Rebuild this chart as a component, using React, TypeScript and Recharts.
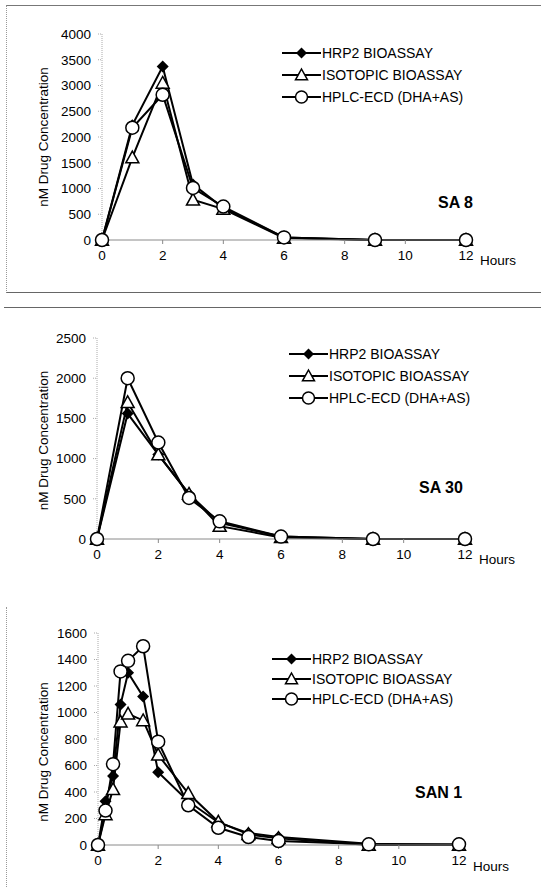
import React from "react"
import { LineChart, Line, XAxis, YAxis, Legend, Label } from "recharts"

// time points (hours)
const SA8_HOURS = [0, 1, 2, 3, 4, 6, 9, 12]
const SA8_HRP2 = [0, 2230, 3370, 1080, 620, 50, 0, 0]
const SA8_ISO = [0, 1600, 3050, 780, 600, 40, 0, 0]
const SA8_HPLC = [0, 2180, 2820, 1010, 650, 50, 0, 0]

const SA30_HOURS = [0, 1, 2, 3, 4, 6, 9, 12]
const SA30_HRP2 = [0, 1560, 1050, 560, 200, 30, 0, 0]
const SA30_ISO = [0, 1700, 1050, 560, 160, 20, 0, 0]
const SA30_HPLC = [0, 2000, 1200, 510, 220, 30, 0, 0]

const SAN1_HOURS = [0, 0.25, 0.5, 0.75, 1, 1.5, 2, 3, 4, 5, 6, 9, 12]
const SAN1_HRP2 = [0, 330, 520, 1060, 1300, 1120, 550, 330, 170, 90, 60, 10, 0]
const SAN1_ISO = [0, 230, 420, 930, 990, 940, 680, 390, 175, 80, 50, 0, 0]
const SAN1_HPLC = [0, 260, 610, 1310, 1390, 1500, 780, 300, 130, 60, 30, 5, 5]

const X_TICKS = [0, 2, 4, 6, 8, 10, 12]
const SA8_Y_TICKS = [0, 500, 1000, 1500, 2000, 2500, 3000, 3500, 4000]
const SA30_Y_TICKS = [0, 500, 1000, 1500, 2000, 2500]
const SAN1_Y_TICKS = [0, 200, 400, 600, 800, 1000, 1200, 1400, 1600]

const SERIES_NAMES = ["HRP2 BIOASSAY", "ISOTOPIC BIOASSAY", "HPLC-ECD (DHA+AS)"]

const FONT = '"Liberation Sans", Arial, sans-serif'
const AXIS_GRAY = "#8a8a8a"

function buildRows(hours: number[], a: number[], b: number[], c: number[]) {
  return hours.map((h, i) => ({ h, hrp2: a[i], iso: b[i], hplc: c[i] }))
}

function Diamond({ cx, cy, s = 6 }: { cx: number; cy: number; s?: number }) {
  return <path d={`M${cx},${cy - s} L${cx + s},${cy} L${cx},${cy + s} L${cx - s},${cy} Z`} fill="#000" />
}

function Triangle({ cx, cy, s = 6.5 }: { cx: number; cy: number; s?: number }) {
  return (
    <path
      d={`M${cx},${cy - s} L${cx + s},${cy + s * 0.8} L${cx - s},${cy + s * 0.8} Z`}
      fill="#fff"
      stroke="#000"
      strokeWidth={1.5}
    />
  )
}

function Ring({ cx, cy, r = 6.5 }: { cx: number; cy: number; r?: number }) {
  return <circle cx={cx} cy={cy} r={r} fill="#fff" stroke="#000" strokeWidth={1.5} />
}

const diamondDot = (p: any) => <Diamond key={`d-${p.index}`} cx={p.cx} cy={p.cy} />
const triangleDot = (p: any) => <Triangle key={`t-${p.index}`} cx={p.cx} cy={p.cy} />
const ringDot = (p: any) => <Ring key={`c-${p.index}`} cx={p.cx} cy={p.cy} />

function LegendBox({ rowHeight }: { rowHeight: number }) {
  const icons = [
    (x: number, y: number) => <Diamond cx={x} cy={y} s={5.5} />,
    (x: number, y: number) => <Triangle cx={x} cy={y} s={6} />,
    (x: number, y: number) => <Ring cx={x} cy={y} r={6} />,
  ]
  return (
    <div style={{ fontFamily: FONT, fontSize: 14, color: "#000" }}>
      {SERIES_NAMES.map((name, i) => (
        <div key={name} style={{ display: "flex", alignItems: "center", height: rowHeight, whiteSpace: "nowrap" }}>
          <svg width={39} height={rowHeight} style={{ display: "block" }}>
            <line x1={0} x2={39} y1={rowHeight / 2} y2={rowHeight / 2} stroke="#000" strokeWidth={2} />
            {icons[i](19.5, rowHeight / 2)}
          </svg>
          <span style={{ marginLeft: 1 }}>{name}</span>
        </div>
      ))}
    </div>
  )
}

function YTitle({ viewBox, shift }: any) {
  const cx = 43
  const cy = viewBox.y + viewBox.height / 2 + shift
  return (
    <text
      x={cx}
      y={cy}
      transform={`rotate(-90 ${cx} ${cy})`}
      textAnchor="middle"
      dominantBaseline="central"
      fontSize={13.5}
      fontFamily={FONT}
      fill="#000"
    >
      nM Drug Concentration
    </text>
  )
}

interface PanelProps {
  rows: { h: number; hrp2: number; iso: number; hplc: number }[]
  yTicks: number[]
  top: number
  height: number
  margin: { top: number; right: number; bottom: number; left: number }
  yWidth: number
  xHeight: number
  legendPos: { top: number; left: number }
  legendRow: number
  titleShift: number
}

function Panel({ rows, yTicks, top, height, margin, yWidth, xHeight, legendPos, legendRow, titleShift }: PanelProps) {
  const tickStyle = { fontSize: 13.5, fontFamily: FONT, fill: "#000" }
  return (
    <div style={{ position: "absolute", top, left: 0 }}>
      <LineChart width={541} height={height} data={rows} margin={margin}>
        <XAxis
          dataKey="h"
          type="number"
          domain={[0, 12]}
          ticks={X_TICKS}
          height={xHeight}
          stroke={AXIS_GRAY}
          tickSize={4}
          tickMargin={6}
          tick={tickStyle}
        >
          <Label value="Hours" position="right" offset={14} style={{ fontSize: 13.5, fontFamily: FONT, fill: "#000" }} />
        </XAxis>
        <YAxis
          type="number"
          domain={[0, yTicks[yTicks.length - 1]]}
          ticks={yTicks}
          width={yWidth}
          stroke="#aaa"
          strokeDasharray="1 1"
          tickSize={4}
          tickMargin={7}
          tick={tickStyle}
          label={(props: any) => <YTitle {...props} shift={titleShift} />}
        />
        <Legend
          layout="vertical"
          align="center"
          verticalAlign="middle"
          wrapperStyle={{ top: legendPos.top, left: legendPos.left, width: "auto" }}
          content={() => <LegendBox rowHeight={legendRow} />}
        />
        <Line dataKey="hrp2" name={SERIES_NAMES[0]} stroke="#000" strokeWidth={2} dot={diamondDot} isAnimationActive={false} />
        <Line dataKey="iso" name={SERIES_NAMES[1]} stroke="#000" strokeWidth={2} dot={triangleDot} isAnimationActive={false} />
        <Line dataKey="hplc" name={SERIES_NAMES[2]} stroke="#000" strokeWidth={2} dot={ringDot} isAnimationActive={false} />
      </LineChart>
    </div>
  )
}

const tagStyle: React.CSSProperties = {
  position: "absolute",
  fontFamily: FONT,
  fontWeight: "bold",
  fontSize: 16,
  lineHeight: "18px",
  color: "#000",
}

export default function App() {
  return (
    <div style={{ position: "absolute", top: 0, left: 0, width: 541, height: 887, background: "#fff", fontFamily: FONT }}>
      {/* frame lines */}
      <div style={{ position: "absolute", top: 5, left: 6, width: 535, height: 286, borderTop: "1px solid #777", borderLeft: "1px dotted #999", borderBottom: "1px solid #666" }} />
      <div style={{ position: "absolute", top: 307, left: 4, width: 537, borderTop: "1px solid #666" }} />
      <div style={{ position: "absolute", top: 607, left: 6, height: 280, borderLeft: "1px dotted #999" }} />

      <Panel
        rows={buildRows(SA8_HOURS, SA8_HRP2, SA8_ISO, SA8_HPLC)}
        yTicks={SA8_Y_TICKS}
        top={0}
        height={300}
        margin={{ top: 34, right: 75, bottom: 20, left: 0 }}
        yWidth={102}
        xHeight={40}
        legendPos={{ top: 42, left: 282 }}
        legendRow={22}
        titleShift={0}
      />
      <div style={{ ...tagStyle, top: 194, left: 438 }}>SA 8</div>

      <Panel
        rows={buildRows(SA30_HOURS, SA30_HRP2, SA30_ISO, SA30_HPLC)}
        yTicks={SA30_Y_TICKS}
        top={300}
        height={300}
        margin={{ top: 38, right: 76, bottom: 21, left: 0 }}
        yWidth={97}
        xHeight={40}
        legendPos={{ top: 43, left: 289 }}
        legendRow={22}
        titleShift={2}
      />
      <div style={{ ...tagStyle, top: 479, left: 419 }}>SA 30</div>

      <Panel
        rows={buildRows(SAN1_HOURS, SAN1_HRP2, SAN1_ISO, SAN1_HPLC)}
        yTicks={SAN1_Y_TICKS}
        top={580}
        height={307}
        margin={{ top: 53, right: 82, bottom: 0, left: 0 }}
        yWidth={98}
        xHeight={42}
        legendPos={{ top: 69, left: 272 }}
        legendRow={20}
        titleShift={13}
      />
      <div style={{ ...tagStyle, top: 784, left: 415 }}>SAN 1</div>
    </div>
  )
}
